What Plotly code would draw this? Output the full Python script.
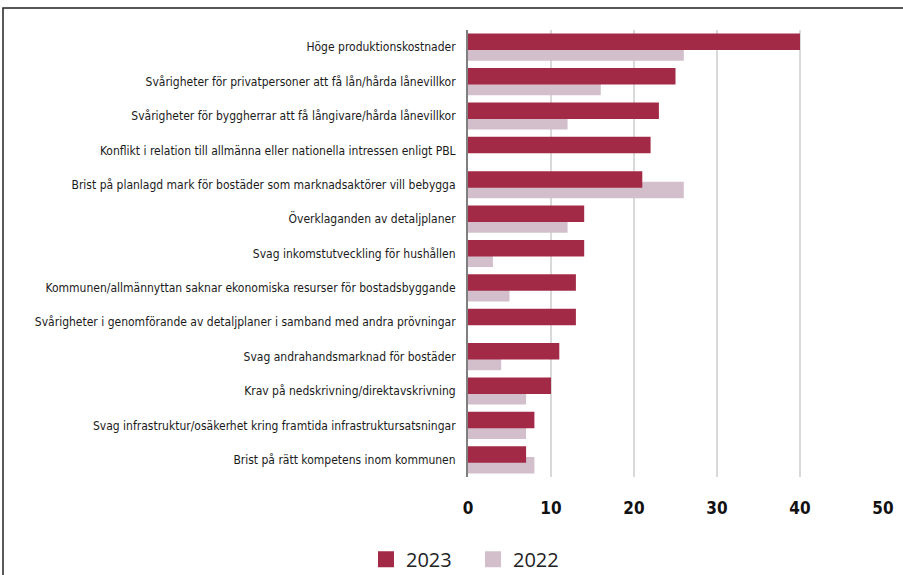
import plotly.graph_objects as go

categories = [
    "Höge produktionskostnader",
    "Svårigheter för privatpersoner att få lån/hårda lånevillkor",
    "Svårigheter för byggherrar att få långivare/hårda lånevillkor",
    "Konflikt i relation till allmänna eller nationella intressen enligt PBL",
    "Brist på planlagd mark för bostäder som marknadsaktörer vill bebygga",
    "Överklaganden av detaljplaner",
    "Svag inkomstutveckling för hushållen",
    "Kommunen/allmännyttan saknar ekonomiska resurser för bostadsbyggande",
    "Svårigheter i genomförande av detaljplaner i samband med andra prövningar",
    "Svag andrahandsmarknad för bostäder",
    "Krav på nedskrivning/direktavskrivning",
    "Svag infrastruktur/osäkerhet kring framtida infrastruktursatsningar",
    "Brist på rätt kompetens inom kommunen",
]
values_2023 = [40, 25, 23, 22, 21, 14, 14, 13, 13, 11, 10, 8, 7]
values_2022 = [26, 16, 12, None, 26, 12, 3, 5, None, 4, 7, 7, 8]
x_ticks = [0, 10, 20, 30, 40, 50]

c2023 = "#A32A46"
c2022 = "#D2BFCB"

fig = go.Figure()
fig.add_trace(go.Bar(y=categories, x=values_2022, orientation="h", name="2022",
                     marker=dict(color=c2022, line=dict(width=0)),
                     width=0.48, offset=-0.085, showlegend=False, hoverinfo="x+y"))
fig.add_trace(go.Bar(y=categories, x=values_2023, orientation="h", name="2023",
                     marker=dict(color=c2023, line=dict(width=0)),
                     width=0.48, offset=-0.395, showlegend=False, hoverinfo="x+y"))
# legend entries
fig.add_trace(go.Scatter(x=[None], y=[None], mode="markers", name="2023",
                         marker=dict(symbol="square", size=16, color=c2023), legendrank=1))
fig.add_trace(go.Scatter(x=[None], y=[None], mode="markers", name="2022",
                         marker=dict(symbol="square", size=16, color=c2022), legendrank=2))

L, R, T, B = 468, 20, 30, 98
W, H = 903, 575
pw, ph = W - L - R, H - T - B

fig.update_layout(
    width=W, height=H,
    margin=dict(l=L, r=R, t=T, b=B, autoexpand=False),
    barmode="overlay",
    plot_bgcolor="white", paper_bgcolor="white",
    font=dict(family="Liberation Sans, Arial, sans-serif", color="#222"),
    legend=dict(orientation="h", x=0.012, xanchor="center", y=-0.184, yanchor="middle",
                font=dict(family="Open Sans, sans-serif", size=20, color="#222"),
                itemwidth=30, entrywidth=62),
    xaxis=dict(range=[0, 50], tickvals=x_ticks, showgrid=True, gridcolor="#D9D9D9", gridwidth=1.5,
               zeroline=False, showline=False, automargin=False,
               tickfont=dict(family="DejaVu Sans Condensed, DejaVu Sans, sans-serif", size=17, color="#111", weight="bold"),
               ticklabelstandoff=19),
    yaxis=dict(type="category", categoryorder="array", categoryarray=categories, autorange="reversed",
               showline=True, linecolor="#7F7F7F", linewidth=2, showgrid=False, ticks="", automargin=False,
               tickfont=dict(family="Liberation Sans Narrow, DejaVu Sans Condensed, Liberation Sans, sans-serif", size=12, color="#1a1a1a"),
               ticklabelstandoff=8),
    shapes=[dict(type="rect", xref="paper", yref="paper",
                 x0=(3 - L) / pw, x1=(910 - L) / pw,
                 y0=(H - B - 580) / ph, y1=(H - B - 8) / ph,
                 line=dict(color="#222", width=1.5), fillcolor="rgba(0,0,0,0)", layer="below")],
)

fig.write_html("out.html")
